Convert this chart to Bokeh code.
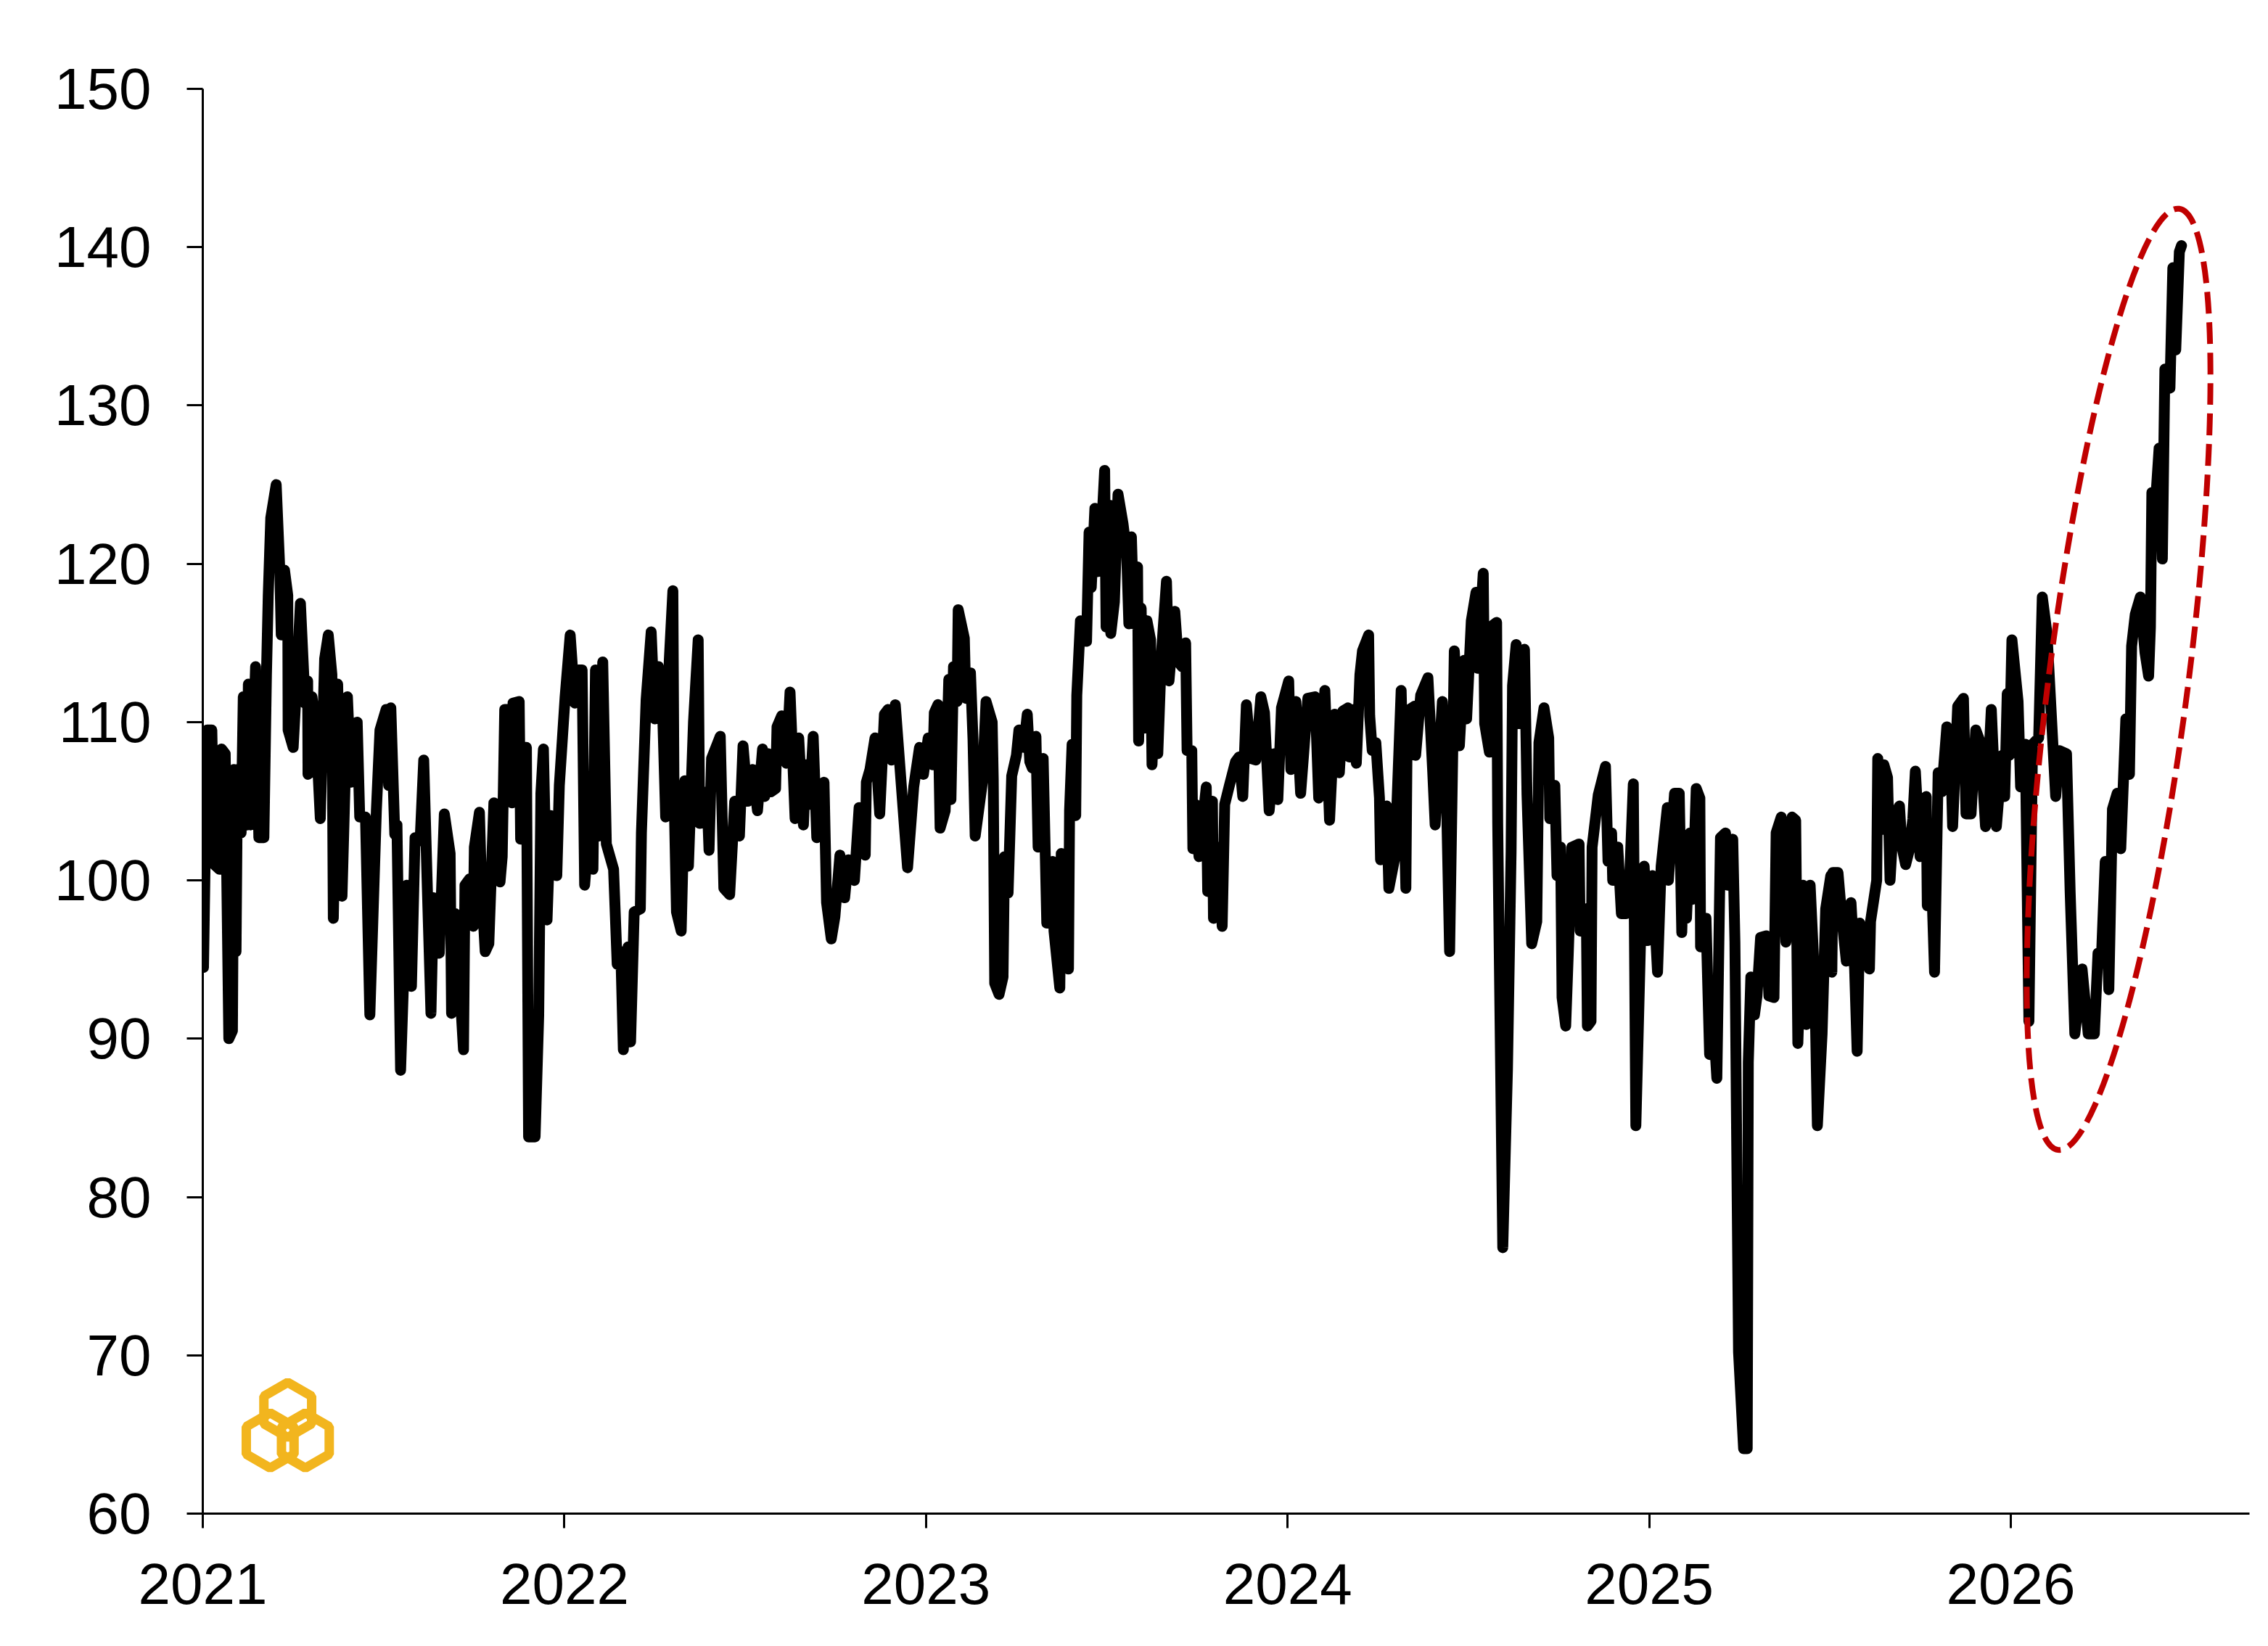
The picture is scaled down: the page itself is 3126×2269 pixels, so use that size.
import math
from bokeh.plotting import figure
from bokeh.models import Range1d, FixedTicker, PrintfTickFormatter
from bokeh.embed import file_html
from bokeh.resources import INLINE

# ---- data: time as fractional year, index values ----
t2021 = [2021.002, 2021.012, 2021.025, 2021.032, 2021.046, 2021.052, 2021.062, 2021.072, 2021.082, 2021.086,
         2021.092, 2021.096, 2021.106, 2021.112, 2021.122, 2021.126, 2021.132, 2021.146, 2021.155, 2021.169,
         2021.176, 2021.181, 2021.188, 2021.203, 2021.213, 2021.217, 2021.226, 2021.235, 2021.236, 2021.250,
         2021.256, 2021.270, 2021.280, 2021.282, 2021.290, 2021.291, 2021.302, 2021.313, 2021.325, 2021.337,
         2021.347, 2021.357, 2021.361, 2021.373, 2021.385, 2021.400, 2021.410, 2021.427, 2021.434, 2021.450,
         2021.462, 2021.480, 2021.490, 2021.507, 2021.514,
         2021.520, 2021.531, 2021.537, 2021.547, 2021.564, 2021.577, 2021.587, 2021.601, 2021.611, 2021.621,
         2021.631, 2021.638, 2021.654, 2021.668, 2021.684, 2021.688, 2021.698, 2021.708, 2021.721, 2021.725,
         2021.738, 2021.748, 2021.751, 2021.765, 2021.771, 2021.781, 2021.791, 2021.805, 2021.815, 2021.822,
         2021.828, 2021.835, 2021.845, 2021.855, 2021.858, 2021.875, 2021.879, 2021.889, 2021.895, 2021.901,
         2021.919, 2021.929, 2021.935, 2021.942, 2021.952, 2021.962, 2021.979, 2021.986]
v2021 = [94.5, 109.5, 109.5, 101.0, 100.7, 108.3, 108.0, 90.0, 90.5, 107.0,
         95.5, 107.0, 103.0, 111.6, 103.5, 112.4, 103.5, 113.5, 102.7, 102.7,
         112.9, 118.0, 122.9, 125.0, 119.6, 115.5, 119.6, 118.0, 109.5, 108.4,
         111.0, 117.5, 112.6, 111.2, 112.6, 106.7, 111.6, 109.5, 103.9, 114.0,
         115.5, 113.0, 97.6, 112.4, 99.0, 111.6, 106.2, 110.0, 104.0, 104.0,
         91.5, 104.4, 109.5, 110.8, 106.0,
         110.9, 102.9, 103.5, 88.0, 99.7, 93.3, 102.7, 102.5, 107.6, 99.5,
         91.6, 98.9, 95.4, 104.2, 101.7, 91.6, 97.9, 94.3, 89.3, 99.7,
         100.1, 97.1, 102.1, 104.3, 99.5, 95.5, 96.0, 104.9, 103.5, 99.9,
         101.5, 110.8, 110.8, 104.9, 111.2, 111.3, 102.6, 108.4, 108.4, 83.8,
         83.8, 91.5, 105.5, 108.3, 97.5, 104.1, 100.3, 106.0]

t2022 = [2022.002, 2022.016, 2022.029, 2022.039, 2022.049, 2022.056, 2022.069, 2022.079, 2022.086, 2022.096,
         2022.106, 2022.116, 2022.126, 2022.136, 2022.146, 2022.156, 2022.163, 2022.176, 2022.183, 2022.193,
         2022.210, 2022.213, 2022.226, 2022.240, 2022.250, 2022.260, 2022.270, 2022.280, 2022.290, 2022.300,
         2022.303, 2022.310, 2022.323, 2022.333, 2022.343, 2022.357, 2022.370, 2022.374, 2022.384, 2022.394,
         2022.400, 2022.407, 2022.431, 2022.441, 2022.457, 2022.471, 2022.484, 2022.494, 2022.507,
         2022.521, 2022.534, 2022.548, 2022.554, 2022.564, 2022.571, 2022.584, 2022.588, 2022.601, 2022.614,
         2022.624, 2022.638, 2022.648, 2022.661, 2022.668, 2022.678, 2022.688, 2022.698, 2022.718, 2022.725,
         2022.738, 2022.748, 2022.762, 2022.775, 2022.785, 2022.802, 2022.815, 2022.832, 2022.835, 2022.845,
         2022.859, 2022.872, 2022.885, 2022.895, 2022.905, 2022.915, 2022.936, 2022.949, 2022.966, 2022.982,
         2022.993]
v2022 = [111.6, 115.5, 111.2, 113.3, 113.3, 99.7, 103.6, 100.7, 113.3, 102.8,
         113.8, 102.3, 101.5, 100.7, 94.7, 95.5, 89.3, 95.8, 89.8, 98.0,
         98.2, 103.0, 111.4, 115.7, 110.2, 113.5, 112.0, 104.0, 113.9, 118.3,
         105.8, 98.0, 96.8, 106.3, 100.9, 110.0, 115.2, 103.6, 103.8, 105.6,
         101.9, 107.7, 109.1, 99.5, 99.1, 105.0, 102.8, 108.5, 105.0,
         107.0, 104.4, 108.3, 105.3, 108.0, 105.6, 105.8, 109.7, 110.4, 107.4,
         111.9, 103.9, 109.0, 103.5, 107.3, 104.8, 109.1, 102.7, 106.2, 98.6,
         96.3, 97.7, 101.6, 98.9, 101.3, 100.0, 104.6, 101.6, 106.2, 107.0,
         109.0, 104.2, 110.5, 110.8, 107.6, 111.1, 104.7, 100.8, 105.9, 108.4,
         106.7]

t2023 = [2023.006, 2023.019, 2023.023, 2023.033, 2023.039, 2023.053, 2023.063, 2023.069, 2023.076, 2023.086,
         2023.089, 2023.106, 2023.110, 2023.123, 2023.130, 2023.136, 2023.156, 2023.166, 2023.183, 2023.186,
         2023.190, 2023.202, 2023.213, 2023.217, 2023.227, 2023.237, 2023.250, 2023.257, 2023.270, 2023.280,
         2023.287, 2023.294, 2023.304, 2023.310, 2023.324, 2023.334, 2023.350, 2023.354, 2023.370, 2023.374,
         2023.394, 2023.397, 2023.404, 2023.414, 2023.417, 2023.427, 2023.444, 2023.451, 2023.457, 2023.467,
         2023.474, 2023.484,
         2023.494, 2023.498, 2023.508, 2023.511, 2023.521, 2023.531, 2023.545, 2023.555, 2023.561, 2023.568,
         2023.575, 2023.585, 2023.588, 2023.595, 2023.601, 2023.611, 2023.621, 2023.625, 2023.635, 2023.641,
         2023.651, 2023.665, 2023.672, 2023.688, 2023.698, 2023.708, 2023.718, 2023.722, 2023.735, 2023.738,
         2023.745, 2023.755, 2023.775, 2023.779, 2023.792, 2023.795, 2023.809, 2023.819, 2023.826, 2023.839,
         2023.856, 2023.866, 2023.876, 2023.886, 2023.899, 2023.912, 2023.926, 2023.936, 2023.949, 2023.963,
         2023.973, 2023.983]
v2023 = [109.0, 107.3, 110.6, 111.1, 103.3, 104.4, 112.7, 105.1, 113.5, 111.3,
         117.1, 115.3, 111.5, 113.1, 108.9, 102.8, 106.2, 111.3, 110.0, 106.4,
         93.5, 92.8, 93.9, 101.5, 99.2, 106.6, 107.9, 109.5, 108.4, 110.5,
         107.5, 107.1, 109.1, 102.1, 107.7, 97.3, 101.2, 96.8, 93.2, 101.7,
         94.4, 104.4, 108.6, 104.1, 111.7, 116.4, 115.1, 122.0, 118.5, 123.5,
         119.5, 121.5,
         125.9, 116.0, 123.7, 115.6, 117.6, 124.4, 122.5, 120.6, 116.2, 121.7,
         116.2, 119.8, 108.8, 117.2, 109.6, 116.4, 115.2, 107.3, 113.0, 108.0,
         114.3, 118.9, 112.6, 117.0, 113.8, 113.5, 115.0, 108.2, 108.2, 102.0,
         104.8, 101.5, 105.9, 99.3, 105.0, 97.6, 102.1, 97.1, 104.8, 106.0,
         107.5, 107.8, 105.3, 111.1, 107.7, 107.6, 111.6, 110.6, 104.4, 108.0,
         105.1, 110.9]

t2024 = [2024.003, 2024.009, 2024.023, 2024.036, 2024.056, 2024.076, 2024.086, 2024.103, 2024.116, 2024.130,
         2024.143, 2024.153, 2024.167, 2024.170, 2024.183, 2024.190, 2024.200, 2024.207, 2024.224, 2024.227,
         2024.234, 2024.244, 2024.254, 2024.257, 2024.274, 2024.280, 2024.297, 2024.314, 2024.327, 2024.331,
         2024.351, 2024.354, 2024.368, 2024.388, 2024.401, 2024.408, 2024.428, 2024.438, 2024.448, 2024.461,
         2024.475, 2024.488, 2024.495,
         2024.508, 2024.521, 2024.525, 2024.541, 2024.545, 2024.558, 2024.561, 2024.578, 2024.581, 2024.595,
         2024.608, 2024.618, 2024.622, 2024.632, 2024.638, 2024.655, 2024.662, 2024.675, 2024.689, 2024.695,
         2024.709, 2024.722, 2024.725, 2024.739, 2024.745, 2024.755, 2024.759, 2024.769, 2024.776, 2024.786,
         2024.806, 2024.809, 2024.826, 2024.829, 2024.839, 2024.842, 2024.859, 2024.879, 2024.886, 2024.896,
         2024.899, 2024.913, 2024.923, 2024.936, 2024.943, 2024.956, 2024.963, 2024.976, 2024.986, 2024.996]
v2024 = [112.6, 107.0, 111.3, 105.5, 111.5, 111.6, 105.2, 112.0, 103.8, 110.5,
         106.8, 110.7, 110.9, 107.8, 110.8, 107.4, 113.0, 114.5, 115.5, 110.4,
         108.2, 108.7, 105.2, 101.3, 104.7, 99.5, 101.5, 112.0, 99.5, 110.7,
         111.0, 107.9, 111.7, 112.8, 107.0, 103.5, 111.3, 106.7, 95.5, 114.5,
         108.5, 113.9, 110.2,
         116.4, 118.2, 113.4, 119.4, 109.9, 108.1, 116.0, 116.3, 103.6, 76.8,
         88.1, 101.8, 112.3, 114.9, 109.9, 114.6, 105.4, 96.0, 97.4, 108.7,
         110.9, 109.0, 103.9, 106.0, 100.3, 102.1, 92.6, 90.8, 95.3, 102.1,
         102.3, 96.8, 98.2, 90.8, 91.1, 102.1, 105.4, 107.2, 101.2, 103.0,
         100.0, 102.1, 97.9, 97.9, 98.5, 106.1, 84.5, 96.2, 100.9, 96.2]

t2025 = [2025.009, 2025.023, 2025.033, 2025.050, 2025.053, 2025.070, 2025.083, 2025.090, 2025.097, 2025.103,
         2025.113, 2025.120, 2025.130, 2025.140, 2025.142, 2025.157, 2025.167, 2025.174, 2025.187, 2025.197,
         2025.211, 2025.217, 2025.231, 2025.237, 2025.247, 2025.261, 2025.271, 2025.274, 2025.281, 2025.291,
         2025.298, 2025.308, 2025.324, 2025.331, 2025.345, 2025.351, 2025.365, 2025.378, 2025.395, 2025.405,
         2025.411, 2025.425, 2025.435, 2025.445, 2025.458, 2025.465, 2025.478, 2025.488, 2025.502, 2025.505,
         2025.508, 2025.522, 2025.532, 2025.545, 2025.558, 2025.568, 2025.575, 2025.582, 2025.595, 2025.609,
         2025.612, 2025.629, 2025.632, 2025.642, 2025.649, 2025.659, 2025.666, 2025.676, 2025.692, 2025.699,
         2025.709, 2025.719, 2025.729, 2025.736, 2025.749, 2025.766, 2025.769, 2025.776, 2025.789, 2025.799,
         2025.809, 2025.823, 2025.833, 2025.839, 2025.853, 2025.869, 2025.876, 2025.890, 2025.903, 2025.916,
         2025.930, 2025.946, 2025.960, 2025.976, 2025.983, 2025.990, 2025.996]
v2025 = [100.3, 94.2, 100.9, 104.6, 100.0, 105.5, 105.5, 96.7, 102.7, 97.6,
         103.0, 98.8, 105.8, 105.2, 95.8, 97.6, 89.0, 92.4, 87.5, 102.7,
         103.0, 99.7, 102.6, 96.1, 70.2, 64.1, 64.1, 88.5, 93.9, 91.5,
         92.7, 96.4, 96.5, 92.7, 92.6, 103.0, 104.0, 96.1, 104.0, 103.8,
         89.7, 99.7, 90.9, 99.7, 93.3, 84.5, 90.3, 98.2, 100.3, 94.2,
         100.5, 100.5, 97.8, 94.9, 98.6, 94.4, 89.2, 97.3, 96.6, 94.4,
         97.4, 100.0, 107.7, 103.2, 107.3, 106.5, 100.0, 104.0, 104.7, 102.1,
         101.0, 101.9, 103.9, 106.9, 101.5, 105.3, 98.4, 103.6, 94.2, 106.8,
         105.6, 109.7, 108.9, 103.4, 111.0, 111.5, 104.2, 104.2, 109.5, 108.7,
         103.4, 110.8, 103.4, 107.9, 105.3, 111.8, 107.9]

t2026 = [2026.003, 2026.020, 2026.027, 2026.040, 2026.050, 2026.060, 2026.077, 2026.087, 2026.100, 2026.110,
         2026.124, 2026.134, 2026.154, 2026.164, 2026.177, 2026.197, 2026.214, 2026.231, 2026.241, 2026.251,
         2026.261, 2026.271, 2026.281, 2026.294, 2026.304, 2026.318, 2026.328, 2026.334, 2026.344, 2026.358,
         2026.371, 2026.381, 2026.386, 2026.390, 2026.400, 2026.410, 2026.419, 2026.426, 2026.440, 2026.448,
         2026.456, 2026.466, 2026.472]
v2026 = [115.2, 111.3, 105.9, 108.6, 91.1, 108.6, 109.0, 117.9, 115.6, 111.3,
         105.3, 108.2, 108.0, 99.3, 90.3, 94.4, 90.3, 90.3, 95.4, 95.4,
         101.2, 93.1, 104.5, 105.5, 102.0, 110.2, 106.7, 114.8, 116.8, 117.9,
         114.4, 112.9, 116.0, 124.5, 123.8, 127.3, 120.3, 132.3, 131.1, 138.7,
         133.5, 139.7, 140.1]

x_ticks = [2021, 2022, 2023, 2024, 2025, 2026]
y_ticks = [60, 70, 80, 90, 100, 110, 120, 130, 140, 150]

t = t2021 + t2022 + t2023 + t2024 + t2025 + t2026
v = v2021 + v2022 + v2023 + v2024 + v2025 + v2026

# ---- layout ----
W, H = 3110, 2261
FL, FR, FT, FB = 279, 3100, 122, 2086       # frame edges inside the figure
X0, X1, Y0, Y1 = 2021.0, 2026.66, 60.0, 150.0
PX_X = (FR - FL) / (X1 - X0)
PX_Y = (FB - FT) / (Y1 - Y0)

p = figure(width=W, height=H, x_range=Range1d(X0, X1), y_range=Range1d(Y0, Y1),
           output_backend="svg", toolbar_location=None,
           min_border_left=FL, min_border_right=W - FR,
           min_border_top=FT, min_border_bottom=H - FB)
p.outline_line_color = None
p.grid.visible = False
p.background_fill_color = "white"
p.border_fill_color = "white"

FONT = "Liberation Sans"
for ax in (p.xaxis[0], p.yaxis[0]):
    ax.axis_line_width = 3
    ax.axis_line_color = "black"
    ax.major_tick_line_width = 3
    ax.major_tick_line_color = "black"
    ax.major_tick_in = 0
    ax.minor_tick_line_color = None
    ax.major_label_text_font = FONT
    ax.major_label_text_font_size = "80px"
    ax.major_label_text_color = "black"

p.xaxis.ticker = FixedTicker(ticks=x_ticks)
p.xaxis.formatter = PrintfTickFormatter(format="%d")
p.xaxis.major_tick_out = 20
p.xaxis.major_label_standoff = 49

p.yaxis.ticker = FixedTicker(ticks=y_ticks)
p.yaxis.formatter = PrintfTickFormatter(format="%d")
p.yaxis.major_tick_out = 22
p.yaxis.major_label_standoff = 49

# series
p.line(t, v, line_width=15, line_color="black", line_join="round", line_cap="round")

# highlight ellipse (screen-sized, rotated)
ell_x, ell_y = 2026.298, 112.7
ell_major_px, ell_minor_px, ell_angle_deg = 1308, 192, 82.67
p.ellipse(x=[ell_x], y=[ell_y], width=[ell_major_px], height=[ell_minor_px],
          angle=[math.radians(ell_angle_deg)], width_units="screen", height_units="screen",
          fill_color=None, line_color="#C00000", line_width=8, line_dash="30 12")

# logo: three interlocking hexagon rings
logo_cx, logo_cy = 2021.235, 65.26
off_px = 28
lx, ly = [], []
for ang in (90, 210, 330):
    lx.append(logo_cx + off_px * math.cos(math.radians(ang)) / PX_X)
    ly.append(logo_cy + off_px * math.sin(math.radians(ang)) / PX_Y)
p.scatter(lx, ly, marker="hex", size=76, angle=math.pi / 2,
          fill_color=None, line_color="#F2B51E", line_width=13)

open("out.html", "w").write(file_html(p, INLINE))
